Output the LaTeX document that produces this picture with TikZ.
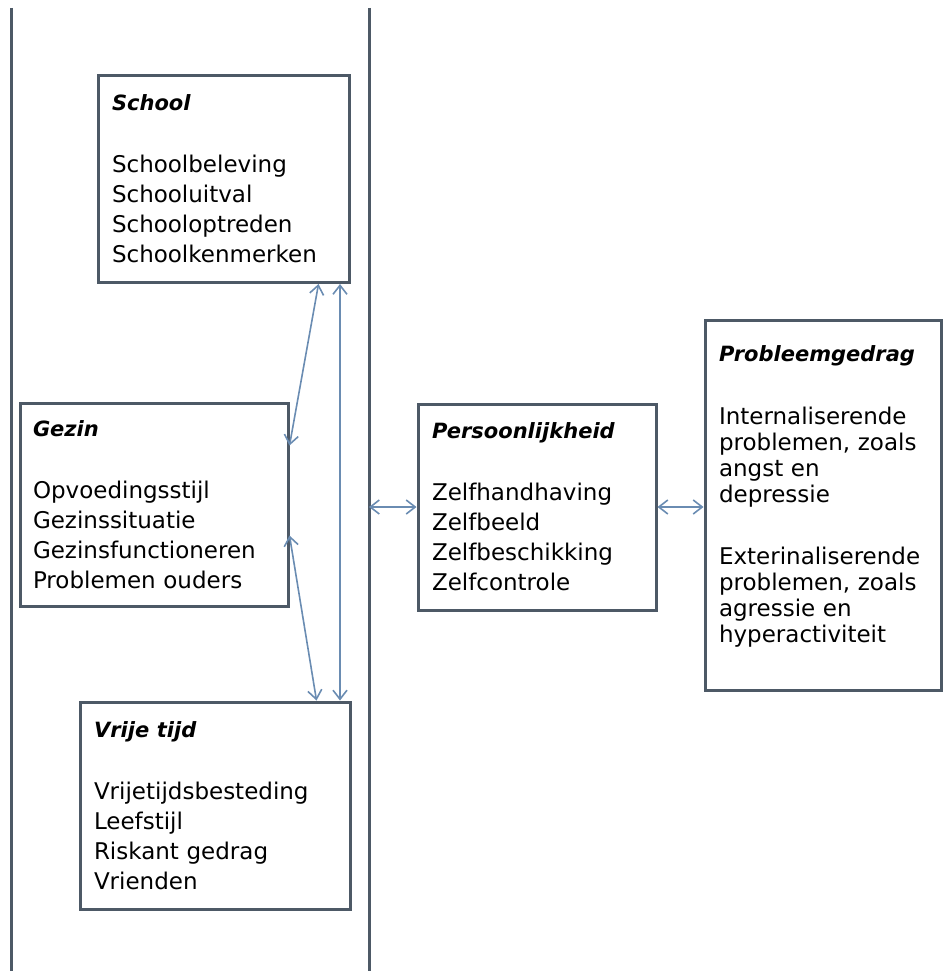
\documentclass[tikz,border=0pt]{standalone}
\usepackage{fontspec}
\setmainfont{DejaVu Sans}
\usepackage{tikz}
\usetikzlibrary{arrows.meta}
\definecolor{boxline}{HTML}{4D5966}
\definecolor{linkblue}{HTML}{6A8CB2}
\tikzset{
	boxstyle/.style={rectangle,draw=boxline,line width=3pt,fill=white,inner sep=0pt,align=left,font=\fontsize{23}{30}\selectfont},
	listbox/.style={boxstyle,font=\fontsize{23}{26}\selectfont},
	linkstyle/.style={draw=linkblue,line width=1.6pt,{Straight Barb[length=9pt,width=14pt]}-{Straight Barb[length=9pt,width=14pt]}},
	panelstyle/.style={draw=boxline,line width=3pt}
}
\newcommand{\boxtitle}[1]{{\fontsize{21}{26}\selectfont\textbf{\textit{#1}}}}

\begin{document}
\begin{tikzpicture}[x=1pt,y=-1pt]
		\useasboundingbox (0,0) rectangle (942,971);
		\draw[panelstyle] (11,8) -- (11,971);
		\draw[panelstyle] (369,8) -- (369,971);
		\coordinate (panelR) at (369,507);
		\node[boxstyle,minimum width=251pt,minimum height=207pt,text width=223pt] (school) at (223.5,179) {\boxtitle{School}\\[32pt]Schoolbeleving\\Schooluitval\\Schooloptreden\\Schoolkenmerken};
		\node[boxstyle,minimum width=268pt,minimum height=203pt,text width=242pt] (gezin) at (154,504.5) {\boxtitle{Gezin}\\[32pt]Opvoedingsstijl\\Gezinssituatie\\Gezinsfunctioneren\\Problemen ouders};
		\node[boxstyle,minimum width=270pt,minimum height=207pt,text width=242pt] (vrij) at (215,805.5) {\boxtitle{Vrije tijd}\\[32pt]Vrijetijdsbesteding\\Leefstijl\\Riskant gedrag\\Vrienden};
		\node[boxstyle,minimum width=238pt,minimum height=206pt,text width=210pt] (pers) at (537,507) {\boxtitle{Persoonlijkheid}\\[32pt]Zelfhandhaving\\Zelfbeeld\\Zelfbeschikking\\Zelfcontrole};
		\node[listbox,minimum width=236pt,minimum height=370pt,text width=208pt] (prob) at (823,505) {\boxtitle{Probleemgedrag}\\[37pt]Internaliserende\\problemen, zoals\\angst en\\depressie\\[36pt]Exterinaliserende\\problemen, zoals\\agressie en\\hyperactiviteit\\[-4pt]~};
		\draw[linkstyle] ([xshift=-10.5pt]school.south east) -- ([xshift=-11.5pt]vrij.north east);
		\draw[linkstyle] ([xshift=-32pt]school.south east) -- ([yshift=-44pt]gezin.north east);
		\draw[linkstyle] ([yshift=-134pt]gezin.north east) -- ([xshift=-35pt]vrij.north east);
		\draw[linkstyle] (panelR) -- (pers.west);
		\draw[linkstyle] (pers.east) -- (prob.west |- pers.east);
\end{tikzpicture}
\end{document}
